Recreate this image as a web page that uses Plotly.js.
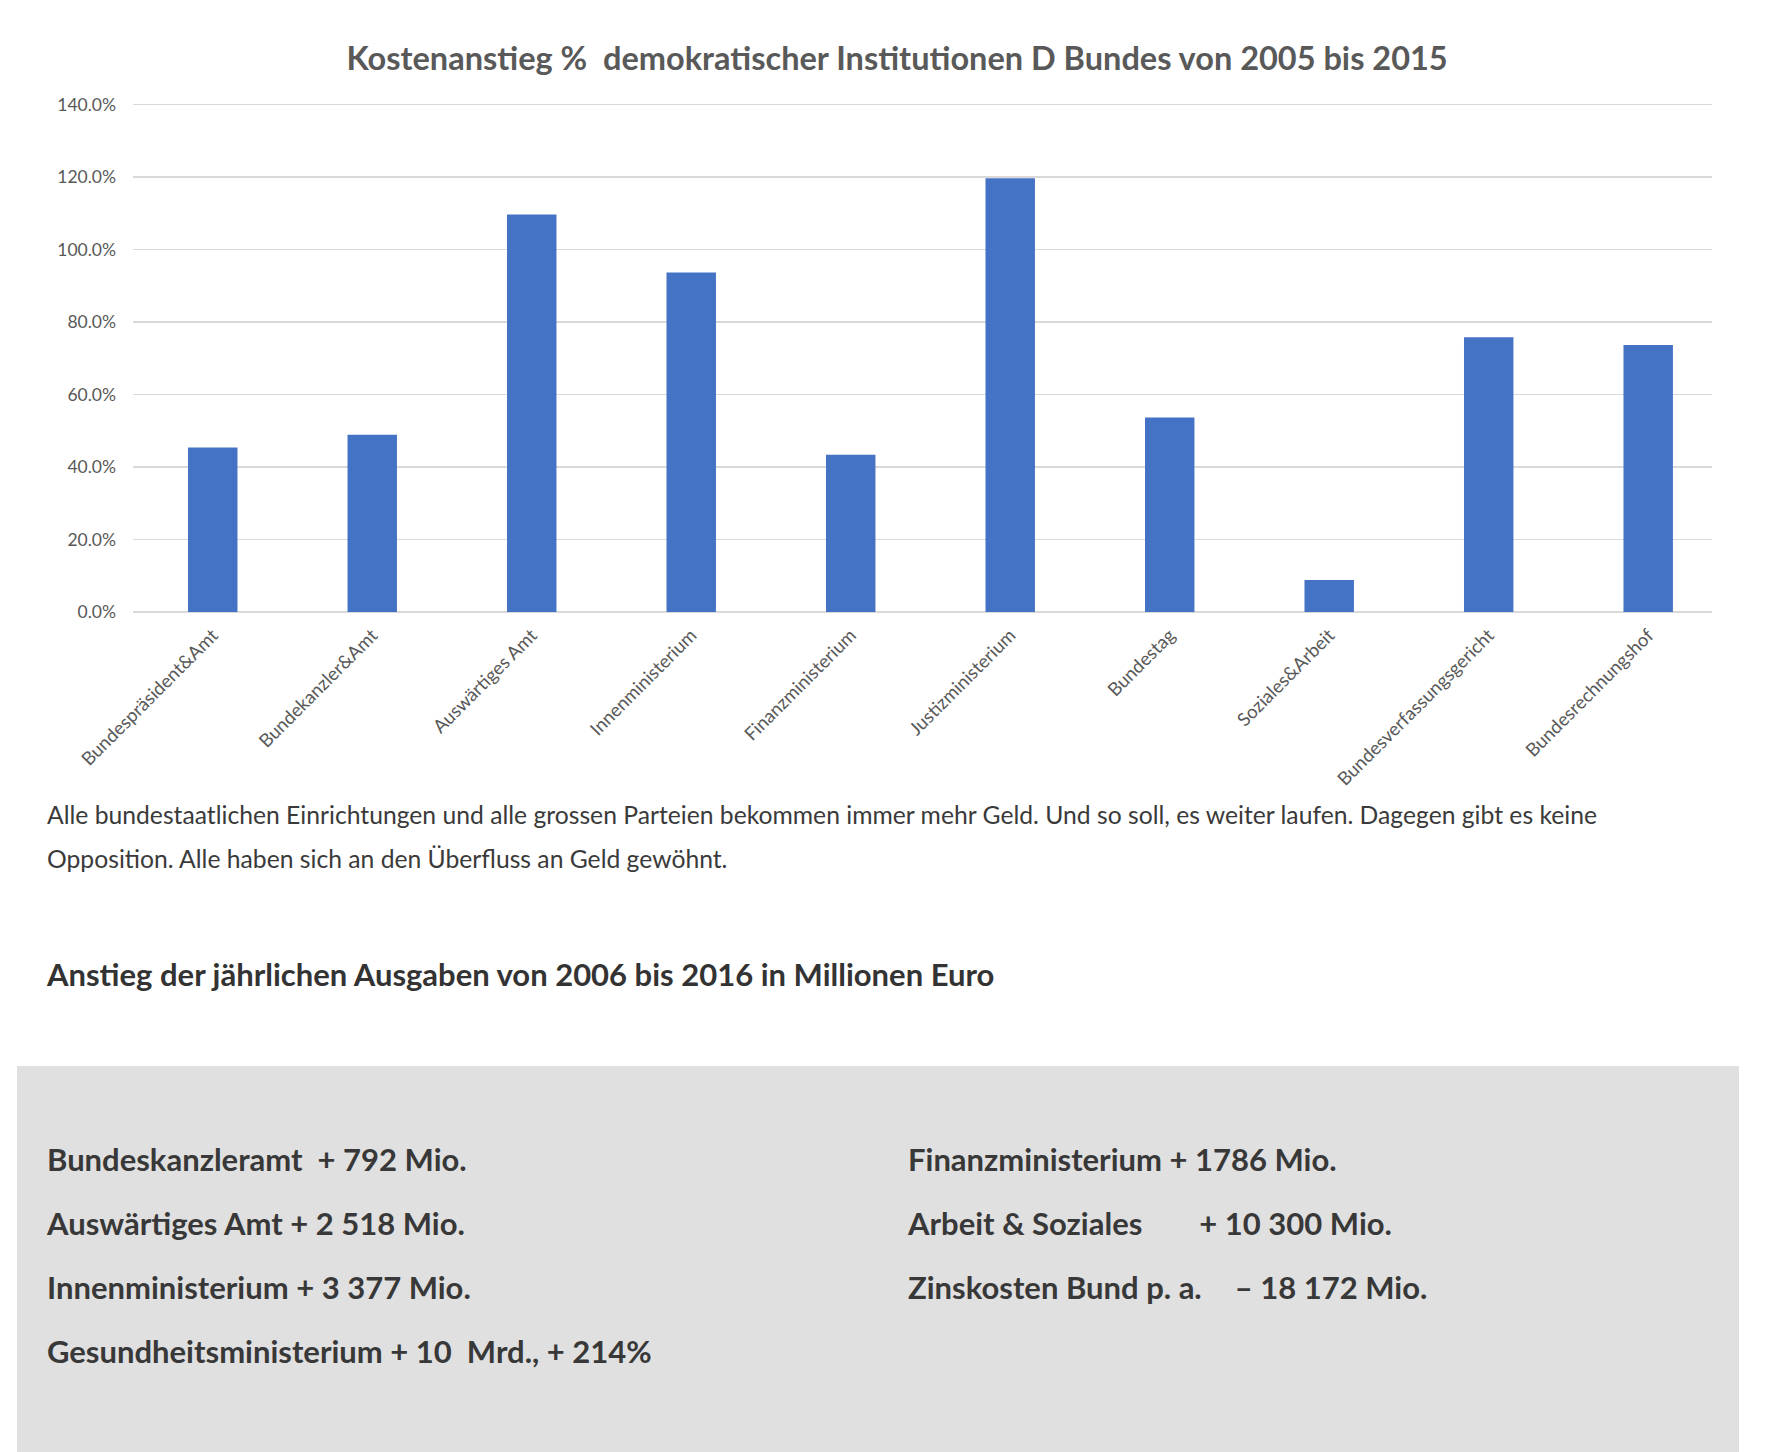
<!DOCTYPE html>
<html>
<head>
<meta charset="utf-8">
<script src="https://cdn.plot.ly/plotly-3.0.1.min.js"></script>
<style>
  body { margin: 0; background: #fff; width: 1780px; height: 1452px; position: relative; overflow: hidden; }
  #plot { position: absolute; left: 0; top: 0; width: 1780px; height: 790px; }
  .txt { position: absolute; font-family: "Source Sans Pro", Lato, sans-serif; color: #3a3a3a; white-space: nowrap; }
  #para { left: 47px; top: 793px; font-size: 24.7px; line-height: 44px; }
  #heading { left: 47px; top: 955px; font-size: 31px; font-weight: bold; color: #333; }
  #box { position: absolute; left: 17px; top: 1066px; width: 1722px; height: 386px; background: #e0e0e0; }
  .item { position: absolute; font-family: "Source Sans Pro", Lato, sans-serif; font-size: 31px; font-weight: bold; color: #383838; white-space: pre; }
</style>
</head>
<body>
<div id="plot"></div>
<div id="para" class="txt">Alle bundestaatlichen Einrichtungen und alle grossen Parteien bekommen immer mehr Geld. Und so soll, es weiter laufen. Dagegen gibt es keine<br>Opposition. Alle haben sich an den Überfluss an Geld gewöhnt.</div>
<div id="heading" class="txt">Anstieg der jährlichen Ausgaben von 2006 bis 2016 in Millionen Euro</div>
<div id="box"></div>
<script>
// categories and cost increase (share, 1.0 = 100%)
let institutionen = [
    "Bundespräsident&Amt",
    "Bundekanzler&Amt",
    "Auswärtiges Amt",
    "Innenministerium",
    "Finanzministerium",
    "Justizministerium",
    "Bundestag",
    "Soziales&Arbeit",
    "Bundesverfassungsgericht",
    "Bundesrechnungshof"
];
let anstieg = [0.454, 0.489, 1.097, 0.937, 0.434, 1.197, 0.537, 0.088, 0.758, 0.737];

// texts in the grey box: [label, amount] per row
let linksLabels = ["Bundeskanzleramt  ", "Auswärtiges Amt ", "Innenministerium ", "Gesundheitsministerium "];
let linksWerte = ["+ 792 Mio.", "+ 2 518 Mio.", "+ 3 377 Mio.", "+ 10  Mrd., + 214%"];
let rechtsLabels = ["Finanzministerium ", "Arbeit & Soziales", "Zinskosten Bund p. a."];
let rechtsWerte = ["+ 1786 Mio.", "+ 10 300 Mio.", "– 18 172 Mio."];

let grau = "#595959";

let trace = {
    x: institutionen.map((n, i) => i),
    y: anstieg,
    type: "bar",
    marker: { color: "#4472C4" },
    hoverinfo: "skip"
};

let layout = {
    width: 1780,
    height: 790,
    margin: { l: 133, r: 68, t: 101, b: 178 },
    paper_bgcolor: "#fff",
    plot_bgcolor: "#fff",
    bargap: 0.69,
    showlegend: false,
    font: { family: "Lato, sans-serif", color: grau },
    title: {
        text: "<b>Kostenanstieg %  demokratischer Institutionen D Bundes von 2005 bis 2015</b>",
        font: { family: "Lato, sans-serif", size: 32.5, color: grau },
        x: 0.504, xanchor: "center",
        y: 1 - 59 / 790, yanchor: "middle", yref: "container"
    },
    xaxis: {
        range: [-0.5, 9.4],
        tickmode: "array",
        tickvals: institutionen.map((n, i) => i),
        ticktext: institutionen,
        tickangle: -45,
        tickfont: { size: 18.5, color: grau },
        showgrid: false,
        zeroline: false,
        showline: false,
        ticks: "",
        ticklabelstandoff: 8
    },
    yaxis: {
        range: [0, 1.41],
        tick0: 0,
        dtick: 0.2,
        tickformat: ".1%",
        tickfont: { size: 17.5, color: grau },
        gridcolor: "#d9d9d9",
        gridwidth: 1.3,
        zeroline: true,
        zerolinecolor: "#d9d9d9",
        zerolinewidth: 1.3,
        showline: false,
        ticklabelstandoff: 16
    }
};

Plotly.newPlot("plot", [trace], layout, { displayModeBar: false, staticPlot: true });

// grey box rows
let box = document.getElementById("box");
function zeile(label, wert, left, top, gap) {
    let d = document.createElement("div");
    d.className = "item";
    d.style.left = left + "px";
    d.style.top = top + "px";
    let a = document.createElement("span");
    a.textContent = label;
    let b = document.createElement("span");
    b.textContent = wert;
    if (gap) b.style.marginLeft = gap + "px";
    d.appendChild(a);
    d.appendChild(b);
    box.appendChild(d);
}
let rowTops = [74, 138, 202, 266];
linksLabels.forEach((l, i) => zeile(l, linksWerte[i], 30, rowTops[i], 0));
let rechtsGaps = [0, 57, 33];
rechtsLabels.forEach((l, i) => zeile(l, rechtsWerte[i], 891, rowTops[i], rechtsGaps[i]));
</script>
</body>
</html>
